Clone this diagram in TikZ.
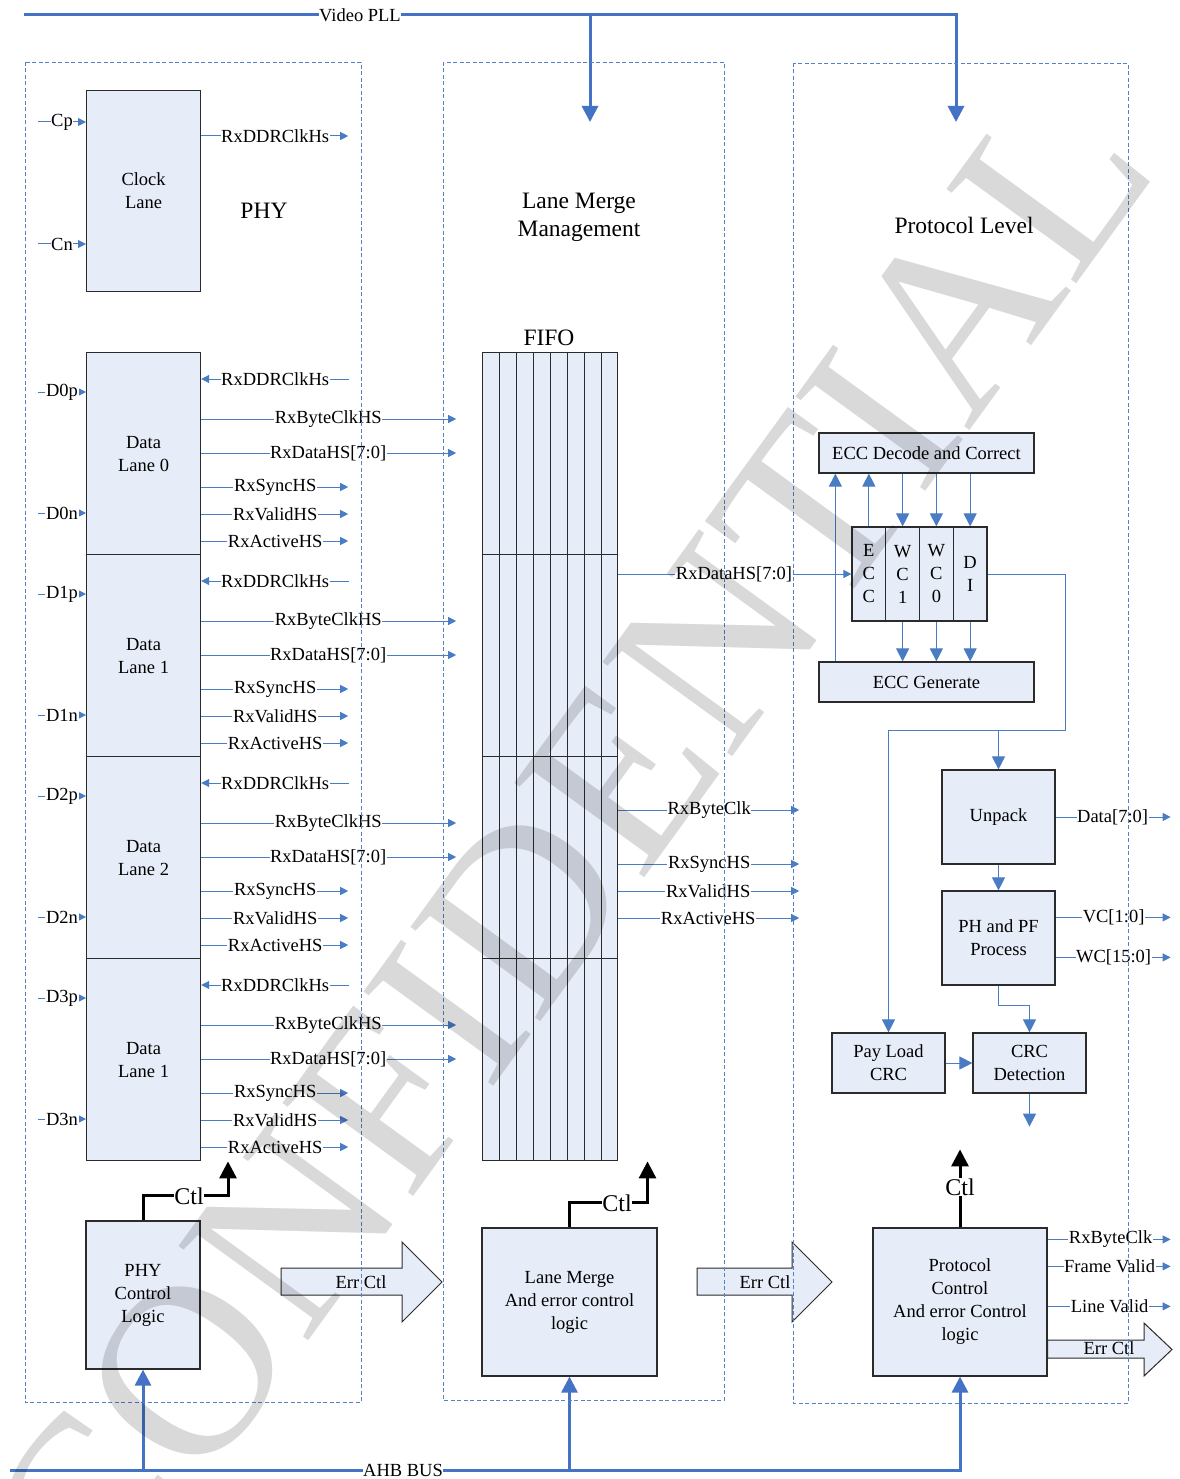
\documentclass[tikz,border=0pt]{standalone}
\usepackage{fontspec}
\setmainfont{Liberation Serif}
\usetikzlibrary{arrows.meta,calc}
\definecolor{bl}{HTML}{4472C4}
\definecolor{sigc}{HTML}{4A7CC4}
\definecolor{boxfill}{HTML}{E7EDF8}
\definecolor{edgec}{HTML}{2B2B2B}
\newcommand\fsA{\fontsize{18.5}{23}\selectfont}
\newcommand\fsB{\fontsize{23.5}{28}\selectfont}
\newcommand\fsC{\fontsize{24}{28}\selectfont}
\begin{document}
\begin{tikzpicture}[x=1pt,y=-1pt,
 box/.style={draw=edgec, fill=boxfill, line width=1.2pt, inner sep=1pt, align=center, font=\fsA},
 cell/.style={box, minimum width=33.75pt, minimum height=94pt},
 sig/.style={draw=sigc, line width=1pt, -{Triangle[width=8pt,length=8pt]}},
 sigm/.style={draw=sigc, line width=1pt, -{Triangle[width=13pt,length=13pt]}},
 sigback/.style={draw=sigc, line width=1pt, {Triangle[width=8pt,length=8pt]}-},
 lbl/.style={fill=white, inner sep=0.6pt, font=\fsA},
 ttl/.style={font=\fsB, align=center},
 bus/.style={draw=bl, line width=3pt},
 bustip/.style={-{Triangle[width=16pt,length=16pt]}},
 ctl/.style={draw=black, line width=3pt, -{Triangle[width=17pt,length=17pt]}},
 ctll/.style={fill=white, inner sep=0.5pt, font=\fsC},
 dbox/.style={draw=bl!90, line width=0.9pt, dash pattern=on 4pt off 2.5pt},
 errarrow/.style={draw=edgec, fill=boxfill, line width=1pt},
]
\useasboundingbox (0,0) rectangle (1179,1479);
\fill[white] (0,0) rectangle (1179,1479);

% ---------------- Video PLL ----------------
\coordinate (pllL) at (24,15);
\coordinate (pllA) at (590,122);
\coordinate (pllB) at (956,122);
\draw[bus,bustip] (pllL) -| (pllB);
\draw[bus,bustip] (pllA |- pllL) -- (pllA);
\node[lbl] (pll) at (360,15) {Video PLL};

% ---------------- titles ----------------
\node[ttl] (phyt) at (264,211) {PHY};
\node[ttl] (lmt) at (579,217) {Lane Merge\\Management};
\node[ttl] (plt) at (964,225) {Protocol Level};
\node[ttl] (fifot) at (549,338) {FIFO};

% ---------------- Clock lane ----------------
\node[box, minimum width=114pt, minimum height=201pt, anchor=north west] (clk) at (86,90) {Clock\\Lane};
\draw[sig] ([xshift=-48pt,yshift=-32pt]clk.north west) -- ([yshift=-32pt]clk.north west);
\node[lbl] at ([xshift=-24pt,yshift=-32pt]clk.north west) {Cp};
\draw[sig] ([xshift=-48pt,yshift=-154pt]clk.north west) -- ([yshift=-154pt]clk.north west);
\node[lbl] at ([xshift=-24pt,yshift=-154pt]clk.north west) {Cn};
\draw[sig] ([yshift=-46pt]clk.north east) -- ++(147,0);
\node[lbl] at ([xshift=74pt,yshift=-46pt]clk.north east) {RxDDRClkHs};

% ---------------- Data lanes ----------------
\foreach \i/\Y/\t in {0/352/0,1/554/1,2/756/2,3/958/1} {
  \node[box, minimum width=114pt, minimum height=202pt, anchor=north west] (l\i) at (86,\Y) {Data\\Lane \t};
  \draw[sig] ([xshift=-48pt,yshift=-40pt]l\i.north west) -- ([yshift=-40pt]l\i.north west);
  \node[lbl] at ([xshift=-24pt,yshift=-40pt]l\i.north west) {D\i p};
  \draw[sig] ([xshift=-48pt,yshift=-161pt]l\i.north west) -- ([yshift=-161pt]l\i.north west);
  \node[lbl] at ([xshift=-24pt,yshift=-161pt]l\i.north west) {D\i n};
  \draw[sigback] ([yshift=-27pt]l\i.north east) -- ++(148,0);
  \node[lbl] at ([xshift=74pt,yshift=-27pt]l\i.north east) {RxDDRClkHs};
  \draw[sig] ([yshift=-67pt]l\i.north east) -- ++(255,0);
  \node[lbl] at ([xshift=127pt,yshift=-67pt]l\i.north east) {RxByteClkHS};
  \draw[sig] ([yshift=-101pt]l\i.north east) -- ++(255,0);
  \node[lbl] at ([xshift=127pt,yshift=-101pt]l\i.north east) {RxDataHS[7:0]};
  \draw[sig] ([yshift=-135pt]l\i.north east) -- ++(147,0);
  \node[lbl] at ([xshift=74pt,yshift=-135pt]l\i.north east) {RxSyncHS};
  \draw[sig] ([yshift=-162pt]l\i.north east) -- ++(147,0);
  \node[lbl] at ([xshift=74pt,yshift=-162pt]l\i.north east) {RxValidHS};
  \draw[sig] ([yshift=-189pt]l\i.north east) -- ++(147,0);
  \node[lbl] at ([xshift=74pt,yshift=-189pt]l\i.north east) {RxActiveHS};
}

% ---------------- FIFO ----------------
\node[box, minimum width=135pt, minimum height=808pt, anchor=north west] (fifo) at (482,352) {};
\foreach \k in {1,...,7}
  \draw[edgec, line width=1pt] ($(fifo.north west)!\k/8!(fifo.north east)$) -- ($(fifo.south west)!\k/8!(fifo.south east)$);
\foreach \k in {1,2,3}
  \draw[edgec, line width=1pt] ($(fifo.north west)!\k/4!(fifo.south west)$) -- ($(fifo.north east)!\k/4!(fifo.south east)$);

% ---------------- Protocol blocks ----------------
\node[box, minimum width=215pt, minimum height=40pt] (eccdec) at (926.5,453) {ECC Decode and Correct};
\node[box, minimum width=215pt, minimum height=40pt] (eccgen) at (926.5,682) {ECC Generate};
\node[cell] (c1) at (868.875,574) {E\\C\\C};
\node[cell] (c2) at (902.625,574) {W\\C\\1};
\node[cell] (c3) at (936.375,574) {W\\C\\0};
\node[cell] (c4) at (970.125,574) {D\\I};
\node[box, minimum width=113pt, minimum height=94pt] (unpack) at (998.5,817) {Unpack};
\node[box, minimum width=113pt, minimum height=94pt] (phpf) at (998.5,938) {PH and PF\\Process};
\node[box, minimum width=113pt, minimum height=60pt] (payload) at (888.5,1063) {Pay Load\\CRC};
\node[box, minimum width=113pt, minimum height=60pt] (crcdet) at (1029.5,1063) {CRC\\Detection};

% FIFO outputs
\draw[sig] (fifo.east |- c1.west) -- (c1.west);
\node[lbl] at (734,574) {RxDataHS[7:0]};
\draw[sig] ([yshift=-458pt]fifo.north east) -- ++(181,0);
\node[lbl] at ([xshift=91pt,yshift=-458pt]fifo.north east) {RxByteClk};
\draw[sig] ([yshift=-512pt]fifo.north east) -- ++(181,0);
\node[lbl] at ([xshift=91pt,yshift=-512pt]fifo.north east) {RxSyncHS};
\draw[sig] ([yshift=-539pt]fifo.north east) -- ++(181,0);
\node[lbl] at ([xshift=90pt,yshift=-539pt]fifo.north east) {RxValidHS};
\draw[sig] ([yshift=-566pt]fifo.north east) -- ++(181,0);
\node[lbl] at ([xshift=90pt,yshift=-566pt]fifo.north east) {RxActiveHS};

% ECC connections
\draw[sigm] (c1.north) -- (c1.north |- eccdec.south);
\draw[sigm] ([xshift=17pt]eccgen.north west) -- ([xshift=17pt]eccdec.south west);
\foreach \c in {c2,c3,c4} {
  \draw[sigm] (eccdec.south -| \c.north) -- (\c.north);
  \draw[sigm] (\c.south) -- (\c.south |- eccgen.north);
}
\coordinate (dr) at (1065,730);
\draw[sigm] (c4.east) -| (dr) -| (payload.north);
\draw[sigm] (unpack.north |- dr) -- (unpack.north);
\draw[sigm] (unpack.south) -- (phpf.north);
\draw[sigm] (phpf.south) -- ++(0,20) -| (crcdet.north);
\draw[sigm] (payload.east) -- (crcdet.west);
\draw[sigm] (crcdet.south) -- ++(0,33);

% protocol outputs
\draw[sig] (unpack.east) -- ++(115,0);
\node[lbl] at ([xshift=57pt]unpack.east) {Data[7:0]};
\draw[sig] ([yshift=-27pt]phpf.north east) -- ++(115,0);
\node[lbl] at ([xshift=58pt,yshift=-27pt]phpf.north east) {VC[1:0]};
\draw[sig] ([yshift=-67pt]phpf.north east) -- ++(115,0);
\node[lbl] at ([xshift=58pt,yshift=-67pt]phpf.north east) {WC[15:0]};

% ---------------- Control blocks ----------------
\node[box, minimum width=114pt, minimum height=148pt] (phyctl) at (143,1295) {PHY\\Control\\Logic};
\node[box, minimum width=175pt, minimum height=148pt] (lmctl) at (569.5,1302) {Lane Merge\\And error control\\logic};
\node[box, minimum width=174pt, minimum height=148pt] (protctl) at (960,1302) {Protocol\\Control\\And error Control\\logic};

\draw[ctl] (phyctl.north) -- ++(0,-25) -- ++(85,0) -- ++(0,-34);
\node[ctll] at (189,1196) {Ctl};
\draw[ctl] (lmctl.north) -- ++(0,-25) -- ++(78,0) -- ++(0,-41);
\node[ctll] at (617,1203) {Ctl};
\draw[ctl] (protctl.north) -- ++(0,-78);
\node[ctll] at (960,1187) {Ctl};

% Err Ctl block arrows
\draw[errarrow] (281,1268) -- (402,1268) -- (402,1242) -- (442,1282) -- (402,1322) -- (402,1295) -- (281,1295) -- cycle;
\node[font=\fsA] (err1) at (361,1282) {Err Ctl};
\draw[errarrow] (697,1268) -- (792,1268) -- (792,1242) -- (832,1282) -- (792,1322) -- (792,1295) -- (697,1295) -- cycle;
\node[font=\fsA] (err2) at (765,1282) {Err Ctl};
\draw[errarrow] (protctl.east |- 0,1340) -- (1144,1340) -- (1144,1323) -- (1172,1349.5) -- (1144,1376) -- (1144,1358) -- (protctl.east |- 0,1358) -- cycle;
\node[font=\fsA] (err3) at (1109,1348) {Err Ctl};

\draw[sig] ([yshift=-12pt]protctl.north east) -- ++(123,0);
\node[lbl] at ([xshift=63pt,yshift=-12pt]protctl.north east) {RxByteClk};
\draw[sig] ([yshift=-39pt]protctl.north east) -- ++(123,0);
\node[lbl] at ([xshift=62pt,yshift=-39pt]protctl.north east) {Frame Valid};
\draw[sig] ([yshift=-79pt]protctl.north east) -- ++(123,0);
\node[lbl] at ([xshift=62pt,yshift=-79pt]protctl.north east) {Line Valid};

% ---------------- AHB BUS ----------------
\coordinate (ahbL) at (10,1470);
\draw[bus,bustip] (ahbL) -| (protctl.south);
\draw[bus,bustip] (phyctl.south |- ahbL) -- (phyctl.south);
\draw[bus,bustip] (lmctl.south |- ahbL) -- (lmctl.south);
\node[lbl] (ahb) at (403,1470) {AHB BUS};

% ---------------- dashed regions ----------------
\draw[dbox] (25,62) rectangle (361,1402);
\draw[dbox] (443,62) rectangle (724,1400);
\draw[dbox] (793,63) rectangle (1128,1403);

% ---------------- watermark ----------------
\node[rotate=54, text=black, text opacity=0.15, font=\fontsize{245}{250}\selectfont] (wm) at (568,848) {CONFIDENTIAL};
\end{tikzpicture}
\end{document}
